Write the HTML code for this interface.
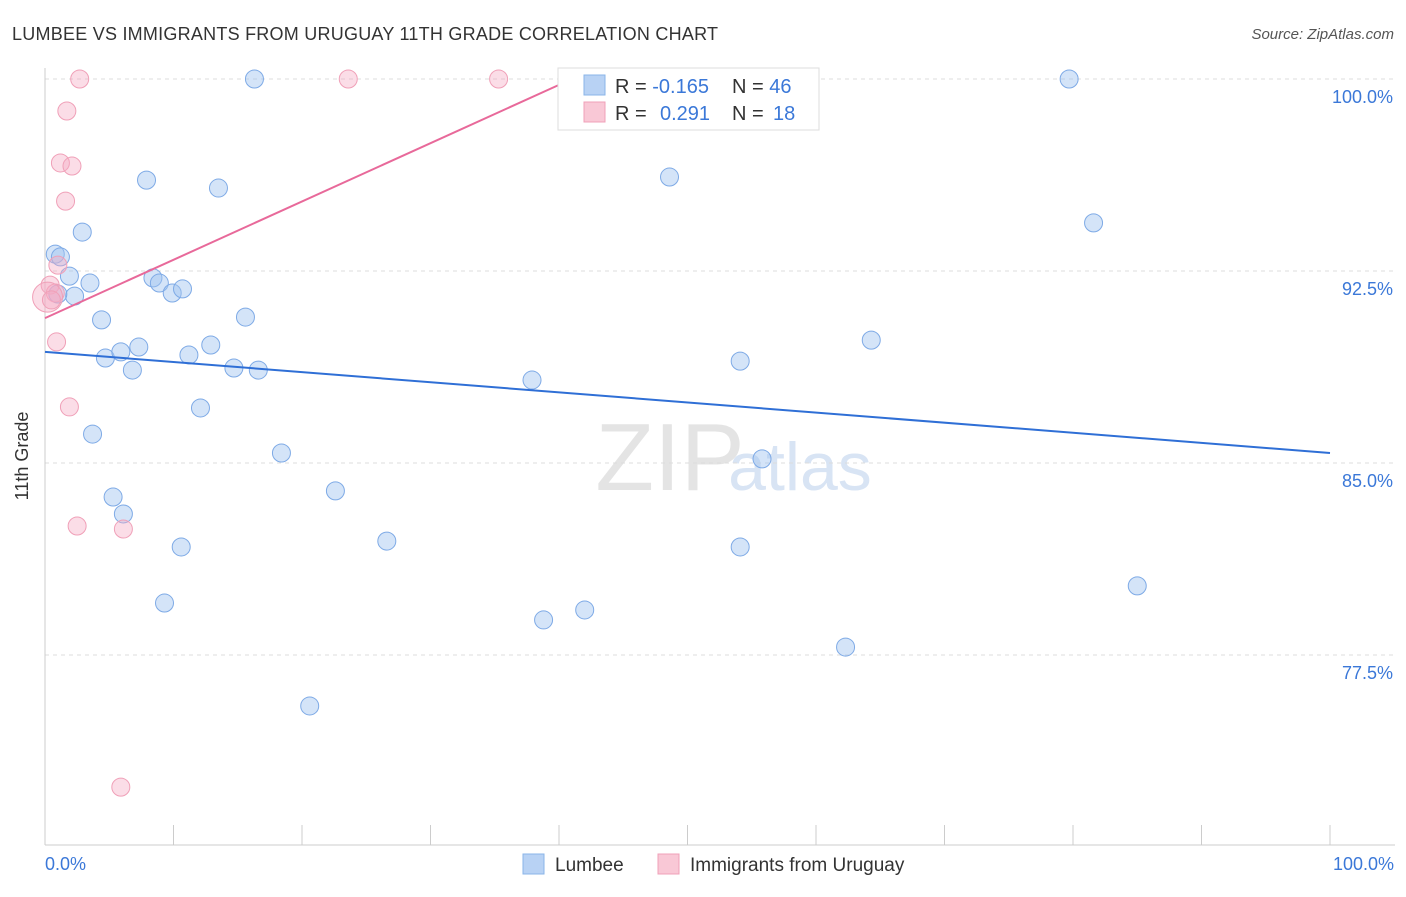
<!DOCTYPE html>
<html><head><meta charset="utf-8"><style>
body{margin:0;background:#fff;font-family:"Liberation Sans",sans-serif}
svg text{font-family:"Liberation Sans",sans-serif}
</style></head><body>
<svg width="1406" height="892">
<text x="12" y="40" font-size="18" fill="#333" textLength="706">LUMBEE VS IMMIGRANTS FROM URUGUAY 11TH GRADE CORRELATION CHART</text>
<text x="1394" y="39" font-size="15" fill="#555" font-style="italic" text-anchor="end">Source: ZipAtlas.com</text>
<text x="670" y="490" font-size="96" fill="#e4e4e4" font-family="Liberation Serif" text-anchor="middle">ZIP</text>
<text x="800" y="490" font-size="68" fill="#d8e4f4" text-anchor="middle">atlas</text>
<g id="grid"></g>
<line x1="45" y1="68" x2="45" y2="845" stroke="#ccc"/>
<line x1="45" y1="845" x2="1395" y2="845" stroke="#ccc"/>
<g id="xticks"></g>
<text x="28" y="456" font-size="18" fill="#333" text-anchor="middle" transform="rotate(-90 28 456)">11th Grade</text>
<text x="45" y="870" font-size="18" fill="#3b78d8">0.0%</text>
<text x="1394" y="870" font-size="18" fill="#3b78d8" text-anchor="end">100.0%</text>
<g id="pts"></g>
<g id="lines"></g>
<g>
<rect x="558" y="68" width="261" height="62" fill="#fff" stroke="#ddd"/>
<rect x="584" y="75" width="21" height="20" fill="#b8d2f4" stroke="#8ab4e8"/>
<rect x="584" y="102" width="21" height="20" fill="#f9c8d6" stroke="#f0a0b8"/>
<text x="615" y="93" font-size="20" fill="#333">R = <tspan fill="#3b78d8">-0.165</tspan></text>
<text x="732" y="93" font-size="20" fill="#333">N = <tspan fill="#3b78d8">46</tspan></text>
<text x="615" y="120" font-size="20" fill="#333">R = <tspan fill="#3b78d8" x="660">0.291</tspan></text>
<text x="732" y="120" font-size="20" fill="#333">N = <tspan fill="#3b78d8" x="773">18</tspan></text>
</g>
<g>
<rect x="523" y="854" width="21" height="20" fill="#b8d2f4" stroke="#8ab4e8"/>
<text x="555" y="871" font-size="19" fill="#333">Lumbee</text>
<rect x="658" y="854" width="21" height="20" fill="#f9c8d6" stroke="#f0a0b8"/>
<text x="690" y="871" font-size="19" fill="#333">Immigrants from Uruguay</text>
</g>
</svg>
<script>
const yTicks=[100,92.5,85,77.5];
const yTickLabels=["100.0%","92.5%","85.0%","77.5%"];
const xTicks=[0,10,20,30,40,50,60,70,80,90,100];
const blueX=[16.3,79.7,7.9,13.5,48.6,81.6,2.9,0.8,1.2,1.9,3.5,2.3,8.4,8.9,9.9,10.7,4.4,15.6,4.7,5.9,7.3,11.2,12.9,6.8,14.7,16.6,37.9,54.1,64.3,12.1,3.7,18.4,55.8,5.3,22.6,6.1,10.6,26.6,54.1,9.3,38.8,42.0,85.0,62.3,20.6,1.0];
const blueY=[100,100,96.05,95.74,96.17,94.38,94.02,93.16,93.05,92.30,92.03,91.52,92.23,92.03,91.64,91.8,90.59,90.70,89.10,89.34,89.53,89.22,89.61,88.63,88.71,88.63,88.24,88.98,89.80,87.15,86.13,85.39,85.16,83.67,83.91,83.01,81.72,81.95,81.72,79.53,78.87,79.26,80.20,77.81,75.51,91.6];
const pinkX=[2.7,23.6,35.3,1.7,1.2,2.1,1.6,1.0,0.4,0.8,0.2,0.5,0.9,1.9,2.5,6.1,5.9];
const pinkY=[100,100,100,98.75,96.72,96.6,95.23,92.73,91.95,91.64,91.48,91.37,89.73,87.19,82.54,82.42,72.34];
const pinkR=[9,9,9,9,9,9,9,9,9,9,15,9,9,9,9,9,9];
const blueLine=[[0,89.34],[100,85.39]];
const pinkLine=[[0,90.66],[40,99.77]];
const NS='http://www.w3.org/2000/svg';
const sx=v=>45+v*12.85, sy=v=>79+(100-v)*25.6;
function mk(t,a,p){const e=document.createElementNS(NS,t);for(const k in a)e.setAttribute(k,a[k]);document.getElementById(p).appendChild(e);return e;}
yTicks.forEach((t,i)=>{
 const l=mk('line',{x1:45,x2:1395,y1:sy(t),y2:sy(t),stroke:'#ddd','stroke-dasharray':'4,4'},'grid');
 
 
 const tx=mk('text',{x:1393,y:sy(t)+24,'font-size':18,fill:'#3b78d8','text-anchor':'end'},'grid');
 tx.textContent=yTickLabels[i];
 
 
});
xTicks.forEach(t=>{
 const l=mk('line',{x1:sx(t),x2:sx(t),y1:825,y2:845,stroke:'#ccc'},'xticks');
 
 
});
blueX.forEach((x,i)=>{
 const c=mk('circle',{cx:sx(x),cy:sy(blueY[i]),r:9,fill:'rgba(160,196,240,0.45)',stroke:'#7eaae6','stroke-width':1},'pts');
 
 
});
pinkX.forEach((x,i)=>{
 const c=mk('circle',{cx:sx(x),cy:sy(pinkY[i]),r:pinkR[i],fill:'rgba(244,170,195,0.4)',stroke:'#f0a0b8','stroke-width':1},'pts');
 
 
});
const b=mk('line',{x1:sx(blueLine[0][0]),y1:sy(blueLine[0][1]),x2:sx(blueLine[1][0]),y2:sy(blueLine[1][1]),stroke:'#2f6fd6','stroke-width':2},'lines');


const p=mk('line',{x1:sx(pinkLine[0][0]),y1:sy(pinkLine[0][1]),x2:sx(pinkLine[1][0]),y2:sy(pinkLine[1][1]),stroke:'#e8699a','stroke-width':2},'lines');


</script>
</body></html>
